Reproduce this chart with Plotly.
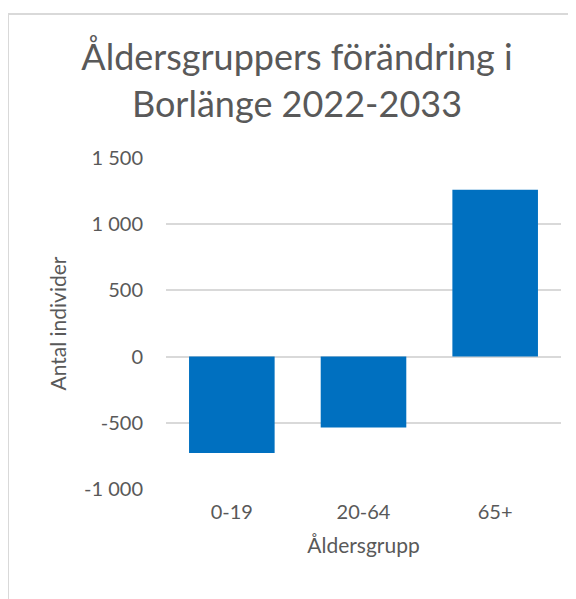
import plotly.graph_objects as go

# Åldersgrupper och förändring 2022-2033
age_groups = ["0-19", "20-64", "65+"]
change = [-728, -535, 1260]

y_tick_vals = [-1000, -500, 0, 500, 1000, 1500]
y_tick_text = ["-1 000", "-500", "0", "500", "1 000", "1 500"]

font_family = "Lato"
text_color = "#595959"
grid_color = "#d9d9d9"

# the html page adds an 8px body margin, so the figure is a bit smaller
W, H = 568, 591

fig = go.Figure(go.Bar(
    x=age_groups, y=change,
    marker=dict(color="#0070C0", line=dict(width=0)),
))

fig.update_layout(
    width=W, height=H,
    margin=dict(l=158, r=15, t=150, b=110),
    paper_bgcolor="white", plot_bgcolor="white",
    bargap=0.35,
    showlegend=False,
    font=dict(family=font_family, color=text_color),
    title=dict(
        text="Åldersgruppers förändring i<br>Borlänge 2022-2033",
        x=289 / W, xref="container", xanchor="center",
        y=1 - 62 / H, yref="container", yanchor="top",
        font=dict(size=36, color=text_color, family=font_family),
    ),
    xaxis=dict(
        title=dict(text="Åldersgrupp", font=dict(size=21), standoff=16),
        tickfont=dict(size=20),
        showgrid=False, showline=False, ticks="",
        ticklabelstandoff=9,
        automargin=False,
    ),
    yaxis=dict(
        title=dict(text="Antal individer", font=dict(size=21), standoff=11),
        range=[-1000, 1500],
        tickmode="array", tickvals=y_tick_vals, ticktext=y_tick_text,
        tickfont=dict(size=20),
        showgrid=True, gridcolor=grid_color, gridwidth=1.5,
        zeroline=True, zerolinecolor=grid_color, zerolinewidth=1.5,
        showline=False, ticks="",
        ticklabelstandoff=22,
        automargin=False,
    ),
    shapes=[dict(
        type="rect", xref="paper", yref="paper",
        x0=(0 - 158) / 395, x1=1.2,
        y0=-0.5, y1=(481 - 6) / 331,
        line=dict(color=grid_color, width=2),
        fillcolor="rgba(0,0,0,0)", layer="below",
    )],
)

fig.write_html("out.html")
